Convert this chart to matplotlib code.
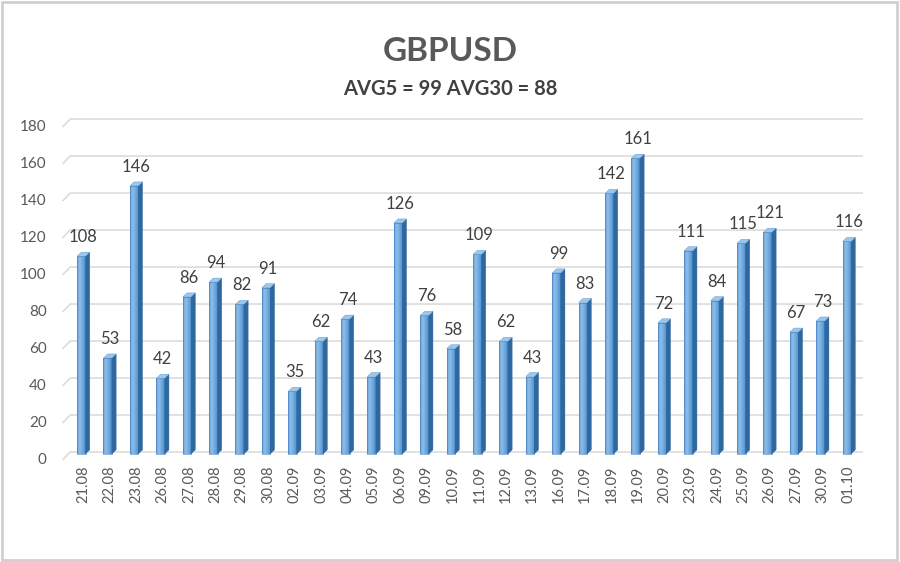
import numpy as np
import matplotlib
matplotlib.use("Agg")
from matplotlib import pyplot as plt
from matplotlib.patches import Polygon, Rectangle
from matplotlib.colors import LinearSegmentedColormap

# Data
dates = ["21.08", "22.08", "23.08", "26.08", "27.08", "28.08", "29.08", "30.08",
         "02.09", "03.09", "04.09", "05.09", "06.09", "09.09", "10.09", "11.09",
         "12.09", "13.09", "16.09", "17.09", "18.09", "19.09", "20.09", "23.09",
         "24.09", "25.09", "26.09", "27.09", "30.09", "01.10"]
values = [108, 53, 146, 42, 86, 94, 82, 91, 35, 62, 74, 43, 126, 76, 58, 109,
          62, 43, 99, 83, 142, 161, 72, 111, 84, 115, 121, 67, 73, 116]
yticks = [0, 20, 40, 60, 80, 100, 120, 140, 160, 180]

plt.rcParams['font.family'] = ['Lato', 'DejaVu Sans']

fig = plt.figure(figsize=(9, 5.62), dpi=100)
ax = fig.add_axes([0.078, 0.1957, 0.88, 0.5925])

x = np.arange(len(values))
w = 0.32      # front width
dx = 0.16     # side depth
dy = 2.2      # top offset

# gridlines with small 3D diagonal at the left
for t in yticks:
    ax.plot([-0.77, -0.5, 29.5], [t - 4.0, t, t], color="#d9d9d9", lw=1.1, zorder=0,
            clip_on=False)
    ax.annotate(str(t), (-0.5, t), xytext=(-17, -6), textcoords="offset points",
                ha="right", va="center", fontsize=11, color="#595959",
                annotation_clip=False)

# 3D bars: back edge of the top face sits on the value
grad = np.linspace(0, 1, 64).reshape(1, -1)
cmap = LinearSegmentedColormap.from_list("bar", ["#6aa6dc", "#8cbde9", "#6ca7dd", "#4a8ccb"])
for xi, v in zip(x, values):
    x0 = xi - w / 2 - dx / 2
    x1 = x0 + w
    h = v - dy
    front = Rectangle((x0, -1), w, h + 1, facecolor="none", edgecolor="#3c7ab8", lw=0.4,
                      zorder=3, clip_on=False)
    ax.add_patch(front)
    im = ax.imshow(grad, extent=[x0, x1, -1, h], aspect="auto", cmap=cmap, zorder=2)
    im.set_clip_path(front)
    side = Polygon([(x1, -1), (x1 + dx, -1 + dy), (x1 + dx, v), (x1, h)],
                   closed=True, facecolor="#2f679f", edgecolor="#2f679f", lw=0.3, zorder=3,
                   clip_on=False)
    ax.add_patch(side)
    top = Polygon([(x0, h), (x0 + dx, v), (x1 + dx, v), (x1, h)],
                  closed=True, facecolor="#9cc6ec", edgecolor="#5b93c8", lw=0.3, zorder=3)
    ax.add_patch(top)
    ax.annotate(str(v), (xi, v), xytext=(0, 5), textcoords="offset points",
                ha="center", va="bottom", fontsize=12, color="#404040")

ax.set_xlim(-0.5, len(values) - 0.5)
ax.set_ylim(0, 180)
ax.set_yticks([])
ax.set_xticks(x)
ax.set_xticklabels(dates, rotation=90, fontsize=10.5, color="#595959")
ax.tick_params(axis="x", length=0, pad=10)
for s in ax.spines.values():
    s.set_visible(False)

fig.text(0.5, 0.908, "GBPUSD", ha="center", va="center", fontsize=24,
         fontweight="bold", color="#595959")
fig.text(0.5, 0.842, "AVG5 = 99 AVG30 = 88", ha="center", va="center", fontsize=14.5,
         fontweight="bold", color="#404040")

# outer border
fig.patches.append(Rectangle((0.002, 0.003), 0.995, 0.993, transform=fig.transFigure,
                             fill=False, edgecolor="#d0d0d0", lw=2))

fig.savefig("out.png", dpi=100)
